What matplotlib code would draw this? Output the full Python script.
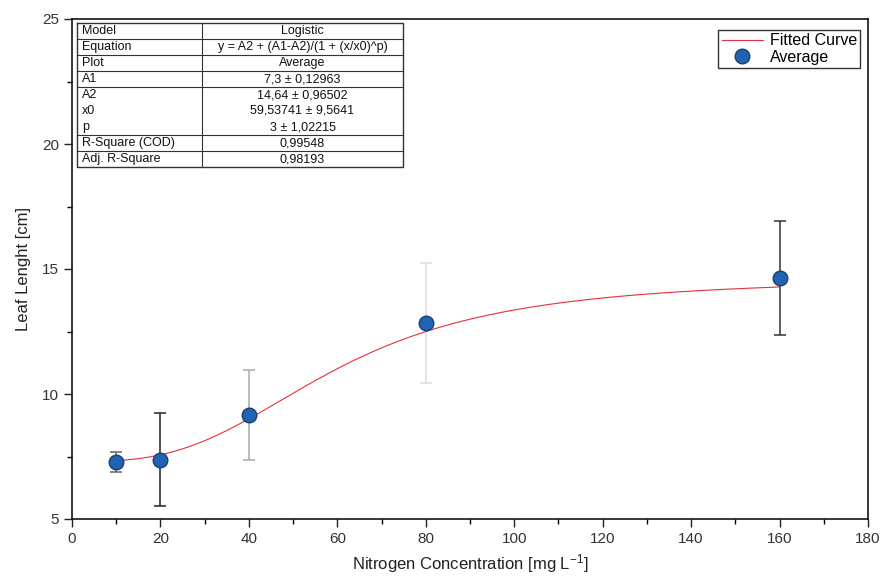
import numpy as np
import matplotlib
matplotlib.use("Agg")
import matplotlib.pyplot as plt
from matplotlib.ticker import MultipleLocator

plt.rcParams['font.family'] = ['Liberation Sans', 'DejaVu Sans']
plt.rcParams['mathtext.default'] = 'regular'

# data
nitrogen = [10, 20, 40, 80, 160]
leaf_len = [7.3, 7.38, 9.16, 12.84, 14.64]
leaf_err = [0.4, 1.87, 1.8, 2.4, 2.28]
err_colors = ['#666666', '#222222', '#aaaaaa', '#dddddd', '#333333']

# logistic fit parameters (from the table)
A1, A2, x0, p = 7.3, 14.64, 59.53741, 3.0

table_rows = [
    ("Model", "Logistic"),
    ("Equation", "y = A2 + (A1-A2)/(1 + (x/x0)^p)"),
    ("Plot", "Average"),
    ("A1", "7,3 \u00b1 0,12963"),
    ("A2", "14,64 \u00b1 0,96502"),
    ("x0", "59,53741 \u00b1 9,5641"),
    ("p", "3 \u00b1 1,02215"),
    ("R-Square (COD)", "0,99548"),
    ("Adj. R-Square", "0,98193"),
]

fig = plt.figure(figsize=(8.85, 5.83), dpi=100)
ax = fig.add_axes([72/885, 1 - 519/583, 796/885, 500/583])

# fitted curve
xf = np.linspace(nitrogen[0], nitrogen[-1], 300)
yf = A2 + (A1 - A2) / (1 + (xf / x0) ** p)
ax.plot(xf, yf, color='#e8303c', lw=0.8, label='Fitted Curve', zorder=2)

# error bars
for xi, yi, ei, c in zip(nitrogen, leaf_len, leaf_err, err_colors):
    ax.errorbar(xi, yi, yerr=ei, fmt='none', ecolor=c, elinewidth=1.1,
                capsize=4, capthick=1.1, zorder=1)

ax.plot(nitrogen, leaf_len, 'o', ms=10.5, mfc='#1f64b0', mec='#1b3f70',
        mew=1.0, label='Average', zorder=3)

ax.set_xlim(0, 180)
ax.set_ylim(5, 25)
ax.xaxis.set_major_locator(MultipleLocator(20))
ax.xaxis.set_minor_locator(MultipleLocator(10))
ax.yaxis.set_major_locator(MultipleLocator(5))
ax.yaxis.set_minor_locator(MultipleLocator(2.5))
ax.tick_params(which='major', direction='out', length=6, width=1, labelsize=11,
               colors='#222222', labelcolor='#333333')
ax.tick_params(which='minor', direction='out', length=3.5, width=1)
for s in ax.spines.values():
    s.set_linewidth(1.1)

ax.set_xlabel('Nitrogen Concentration [mg L$^{-1}$]', fontsize=12, color='#222222')
ax.set_ylabel('Leaf Lenght [cm]', fontsize=12, color='#222222', labelpad=8)

leg = ax.legend(loc='upper right', bbox_to_anchor=(0.99, 0.978), fontsize=11.5,
                frameon=True, fancybox=False, edgecolor='black',
                handlelength=2.6, borderpad=0.2, labelspacing=0.1,
                handletextpad=0.4, borderaxespad=0)
leg.get_frame().set_linewidth(1.0)

# fit results table (axes coordinates)
tl, tr, tdiv = 5/796, 331/796, 130/796
ttop, tbot = 1 - 4/500, 1 - 148/500
nrow = len(table_rows)
rh = (ttop - tbot) / nrow
lines_after = [0, 1, 2, 3, 6, 7]
ax.plot([tl, tr, tr, tl, tl], [ttop, ttop, tbot, tbot, ttop], color='#333333',
        lw=1.0, transform=ax.transAxes, clip_on=False, zorder=5)
ax.plot([tdiv, tdiv], [ttop, tbot], color='#333333', lw=0.8,
        transform=ax.transAxes, zorder=5)
for i in lines_after:
    yy = ttop - (i + 1) * rh
    ax.plot([tl, tr], [yy, yy], color='#333333', lw=0.8,
            transform=ax.transAxes, zorder=5)
for i, (k, v) in enumerate(table_rows):
    yc = ttop - (i + 0.5) * rh
    ax.text(tl + 0.006, yc, k, transform=ax.transAxes, fontsize=9,
            va='center', ha='left', color='#111111', zorder=6)
    ax.text((tdiv + tr) / 2, yc, v, transform=ax.transAxes, fontsize=9,
            va='center', ha='center', color='#111111', zorder=6)

fig.savefig('out.png', dpi=100)
